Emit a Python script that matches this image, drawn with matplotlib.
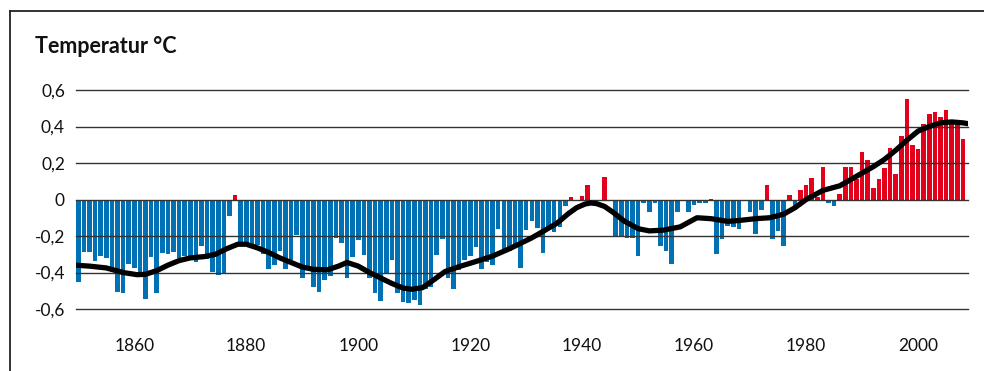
import matplotlib.pyplot as plt
from matplotlib.lines import Line2D

years = list(range(1850, 2009))
anomaly = [
    -0.45, -0.29, -0.29, -0.335, -0.31, -0.32, -0.38, -0.505, -0.515, -0.355,   # 1850s
    -0.375, -0.40, -0.545, -0.315, -0.515, -0.295, -0.30, -0.29, -0.32, -0.31,  # 1860s
    -0.31, -0.345, -0.255, -0.325, -0.395, -0.415, -0.40, -0.09, 0.025, -0.24,  # 1870s
    -0.245, -0.25, -0.25, -0.30, -0.38, -0.36, -0.28, -0.38, -0.33, -0.195,     # 1880s
    -0.43, -0.38, -0.48, -0.505, -0.44, -0.42, -0.21, -0.24, -0.43, -0.315,     # 1890s
    -0.22, -0.305, -0.43, -0.51, -0.555, -0.41, -0.33, -0.51, -0.56, -0.565,    # 1900s
    -0.55, -0.58, -0.49, -0.48, -0.305, -0.216, -0.43, -0.49, -0.385, -0.33,    # 1910s
    -0.31, -0.26, -0.38, -0.34, -0.36, -0.16, -0.29, -0.28, -0.265, -0.375,     # 1920s
    -0.165, -0.12, -0.155, -0.295, -0.15, -0.18, -0.15, -0.035, 0.015, -0.005,  # 1930s
    0.02, 0.08, 0.0, -0.005, 0.125, -0.01, -0.205, -0.20, -0.21, -0.21,         # 1940s
    -0.31, -0.02, -0.07, -0.02, -0.255, -0.28, -0.355, -0.07, -0.01, -0.07,     # 1950s
    -0.03, -0.02, -0.02, 0.005, -0.30, -0.215, -0.145, -0.15, -0.16, 0.0,       # 1960s
    -0.07, -0.19, -0.055, 0.08, -0.215, -0.17, -0.255, 0.025, -0.06, 0.05,      # 1970s
    0.08, 0.12, 0.015, 0.18, -0.02, -0.035, 0.03, 0.18, 0.18, 0.11,             # 1980s
    0.26, 0.215, 0.065, 0.11, 0.175, 0.28, 0.14, 0.35, 0.55, 0.30,              # 1990s
    0.275, 0.415, 0.47, 0.48, 0.45, 0.49, 0.425, 0.425, 0.33,                   # 2000s
]

# smoothed curve
smooth_years = [1849.5, 1852, 1855, 1858, 1860.5, 1862, 1864, 1866, 1868, 1870,
                1872.5, 1874.5, 1876.5, 1878.5, 1880, 1882, 1884, 1886, 1888, 1890,
                1892, 1894.5, 1896.5, 1898, 1900, 1902, 1904, 1906, 1908, 1909.5,
                1911.5, 1913.5, 1915.5, 1918, 1921, 1924, 1927, 1929, 1931, 1933,
                1935.5, 1937.5, 1939, 1940.5, 1941.5, 1942.5, 1944, 1945.5, 1947.5, 1950,
                1952, 1954.5, 1957.5, 1960.5, 1963, 1966, 1968, 1971, 1973.5, 1976,
                1978, 1980, 1983, 1986, 1988, 1990, 1992, 1994, 1996, 1998,
                2000, 2002, 2004, 2006, 2008, 2009]
smooth_values = [-0.36, -0.365, -0.375, -0.40, -0.412, -0.41, -0.39, -0.36, -0.335, -0.32,
                 -0.313, -0.30, -0.27, -0.245, -0.245, -0.265, -0.29, -0.32, -0.345, -0.37,
                 -0.383, -0.385, -0.365, -0.345, -0.365, -0.40, -0.43, -0.46, -0.485, -0.492,
                 -0.483, -0.44, -0.395, -0.368, -0.34, -0.31, -0.27, -0.24, -0.21, -0.175,
                 -0.13, -0.078, -0.045, -0.025, -0.019, -0.022, -0.038, -0.07, -0.118, -0.16,
                 -0.172, -0.168, -0.15, -0.10, -0.105, -0.12, -0.115, -0.105, -0.10, -0.08,
                 -0.045, 0.0, 0.05, 0.075, 0.11, 0.145, 0.18, 0.22, 0.27, 0.325,
                 0.375, 0.40, 0.42, 0.425, 0.42, 0.415]

yticks = [-0.6, -0.4, -0.2, 0.0, 0.2, 0.4, 0.6]
ytick_labels = ['-0,6', '-0,4', '-0,2', '0', '0,2', '0,4', '0,6']
xticks = [1860, 1880, 1900, 1920, 1940, 1960, 1980, 2000]

blue = '#0071b5'
red = '#e2001a'

plt.rcParams['font.family'] = ['Lato', 'DejaVu Sans']

W, H = 984, 371
fig = plt.figure(figsize=(W / 100, H / 100), dpi=100)
ax = fig.add_axes([76 / W, 1 - 309 / H, (968 - 76) / W, 219 / H])

colors = [red if v > 0 else blue for v in anomaly]
ax.bar(years, anomaly, width=0.82, color=colors, zorder=2)

for t in yticks:
    ax.axhline(t, color='#333333', lw=1.0, zorder=3, clip_on=False)

ax.plot(smooth_years, smooth_values, color='black', lw=3.8, zorder=4,
        solid_joinstyle='round', solid_capstyle='butt')

ax.set_xlim(1849.6, 2008.9)
ax.set_ylim(-0.6, 0.6)
for s in ax.spines.values():
    s.set_visible(False)
ax.set_yticks(yticks, ytick_labels)
ax.set_xticks(xticks)
ax.tick_params(axis='y', length=0, pad=8, labelsize=12.5, colors='#111111')
ax.tick_params(axis='x', length=0, pad=21, labelsize=12.5, colors='#111111')

fig.text(35 / W, 1 - 53 / H, 'Temperatur °C', fontsize=15.5, fontweight='bold',
         va='baseline', color='#111111')

# outer frame (left and top only)
fig.add_artist(Line2D([10 / W, 10 / W], [0, 1 - 11 / H], color='#222222', lw=1.3))
fig.add_artist(Line2D([10 / W, 1], [1 - 11 / H, 1 - 11 / H], color='#222222', lw=1.3))

fig.savefig('out.png', dpi=100)
